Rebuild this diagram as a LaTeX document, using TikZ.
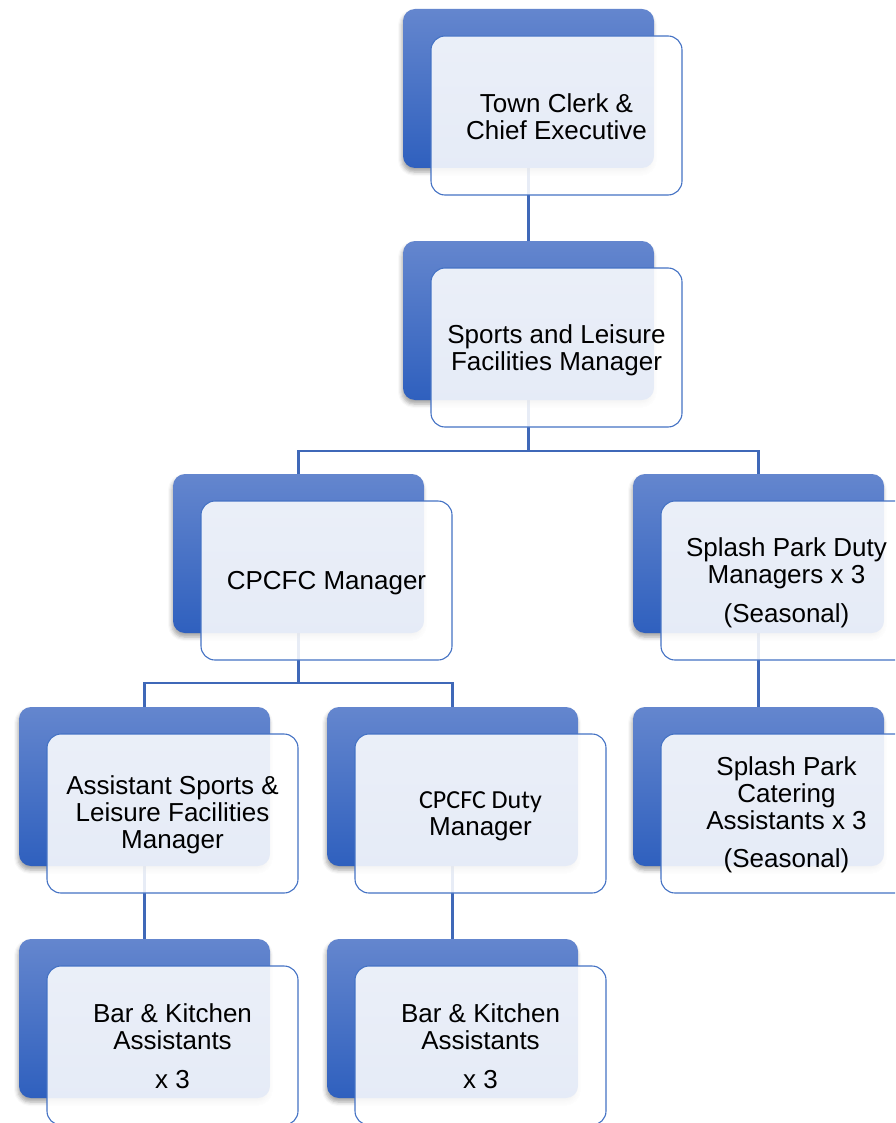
\documentclass[tikz,border=0pt]{standalone}
\usepackage{fontspec}
\setmainfont{Liberation Sans}
\newfontfamily\carlito{Carlito}
\usetikzlibrary{shadows.blur}
\definecolor{darktop}{HTML}{6486CE}
\definecolor{darkbot}{HTML}{2F60BE}
\definecolor{edgeblue}{HTML}{4472C4}
\definecolor{linkblue}{HTML}{3F68B8}
\pgfdeclarelayer{bg}
\pgfsetlayers{bg,main}
\tikzset{
  backbox/.style={minimum width=251pt, minimum height=159pt, rounded corners=12pt,
    top color=darktop, bottom color=darkbot, draw=none, inner sep=0pt,
    blur shadow={shadow xshift=-1pt, shadow yshift=-4pt, shadow blur radius=4pt, shadow opacity=35}},
  frontbox/.style={minimum width=251pt, minimum height=159pt, rounded corners=14pt,
    fill=white, fill opacity=0.88, text opacity=1, draw=edgeblue, line width=1.1pt,
    inner sep=0pt},
  boxtext/.style={align=center, inner sep=0pt, font=\fontsize{26}{27}\selectfont},
  link/.style={draw=linkblue, line width=2.3pt}
}
\begin{document}
\begin{tikzpicture}[x=1pt,y=-1pt]
\useasboundingbox (0,0) rectangle (895,1123);
\clip (0,0) rectangle (895,1123);
% back boxes
\node[backbox] (d1) at (528.5,88.5) {};
\node[backbox] (d2) at (528.5,320.5) {};
\node[backbox] (d3) at (298.5,553.5) {};
\node[backbox] (d4) at (758.5,553.5) {};
\node[backbox] (d5) at (144.5,786.5) {};
\node[backbox] (d6) at (452.5,786.5) {};
\node[backbox] (d7) at (758.5,786.5) {};
\node[backbox] (d8) at (144.5,1018.5) {};
\node[backbox] (d9) at (452.5,1018.5) {};
% front boxes
\node[frontbox] (w1) at (556.5,115.5) {};
\node[frontbox] (w2) at (556.5,347.5) {};
\node[frontbox] (w3) at (326.5,580.5) {};
\node[frontbox] (w4) at (786.5,580.5) {};
\node[frontbox] (w5) at (172.5,813.5) {};
\node[frontbox] (w6) at (480.5,813.5) {};
\node[frontbox] (w7) at (786.5,813.5) {};
\node[frontbox] (w8) at (172.5,1045.5) {};
\node[frontbox] (w9) at (480.5,1045.5) {};
% texts
\node[boxtext] (t1) at ([yshift=-1.5pt]w1.center) {Town Clerk \&\\Chief Executive};
\node[boxtext] (t2) at ([yshift=-3pt]w2.center) {Sports and Leisure\\Facilities Manager};
\node[boxtext] (t3) at ([yshift=-3pt]w3.center) {CPCFC Manager};
\node[boxtext] (t4) at ([yshift=-2pt]w4.center) {Splash Park Duty\\Managers x 3\\[12pt](Seasonal)};
\node[boxtext] (t5) at ([yshift=-1.5pt]w5.center) {Assistant Sports \&\\Leisure Facilities\\Manager};
\node[boxtext] (t6) at ([yshift=-2.5pt]w6.center) {{\carlito CPCFC Duty}\\Manager};
\node[boxtext] (t7) at ([yshift=-1pt]w7.center) {Splash Park\\Catering\\Assistants x 3\\[11pt](Seasonal)};
\node[boxtext] (t8) at ([yshift=-0.5pt]w8.center) {Bar \& Kitchen\\Assistants\\[12pt]x 3};
\node[boxtext] (t9) at ([yshift=-0.5pt]w9.center) {Bar \& Kitchen\\Assistants\\[12pt]x 3};
% connectors
\begin{pgfonlayer}{bg}
\draw[link] (d1.south) -- (d2.north);
\draw[link] (d2.south) -- ++(0,51) -| (d3.north);
\draw[link] (d2.south) -- ++(0,51) -| (d4.north);
\draw[link] (d3.south) -- ++(0,50) -| (d5.north);
\draw[link] (d3.south) -- ++(0,50) -| (d6.north);
\draw[link] (d4.south) -- (d7.north);
\draw[link] (d5.south) -- (d8.north);
\draw[link] (d6.south) -- (d9.north);
\end{pgfonlayer}
\end{tikzpicture}
\end{document}
